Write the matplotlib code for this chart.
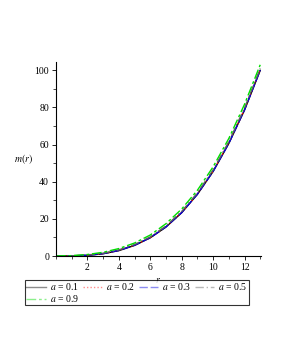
import matplotlib
matplotlib.use("Agg")
import matplotlib.pyplot as plt
from matplotlib.ticker import MultipleLocator

r = [0, 1, 2, 3, 4, 5, 6, 7, 8, 9, 10, 11, 12, 13]
m_a01 = [0, 0.05, 0.36, 1.2, 2.9, 5.7, 9.8, 15.6, 23.3, 33.2, 45.5, 60.6, 78.6, 100.0]
m_a02 = [0, 0.06, 0.40, 1.3, 3.0, 5.8, 9.9, 15.8, 23.5, 33.4, 45.8, 60.9, 78.9, 100.3]
m_a03 = [0, 0.06, 0.40, 1.3, 3.0, 5.8, 9.9, 15.7, 23.4, 33.3, 45.6, 60.7, 78.7, 100.1]
m_a05 = [0, 0.10, 0.55, 1.5, 3.3, 6.2, 10.3, 16.2, 24.0, 34.0, 46.4, 61.6, 79.7, 101.0]
m_a09 = [0, 0.20, 0.80, 2.0, 4.0, 7.0, 11.3, 17.4, 25.3, 35.4, 48.0, 63.3, 81.7, 103.0]
a_values = ["0.1", "0.2", "0.3", "0.5", "0.9"]

plt.rcParams['font.family'] = ['Liberation Serif', 'DejaVu Serif']
plt.rcParams['mathtext.fontset'] = 'stix'

fig = plt.figure(figsize=(2.81, 3.63), dpi=100)
ax = fig.add_axes([56/281, 107/363, 205/281, 194/363])

styles = [
    dict(color='black', linestyle='-'),
    dict(color='red', linestyle=(0, (1, 1.5))),
    dict(color='#0000e0', linestyle=(0, (6, 2))),
    dict(color='#606060', linestyle=(0, (6, 2, 1, 2))),
    dict(color='#00dd00', linestyle=(0, (7, 2, 2, 2))),
]
series = [m_a01, m_a02, m_a03, m_a05, m_a09]
handles = []
for av, ys, st in zip(a_values, series, styles):
    h, = ax.plot(r, ys, lw=1.0, label=r'$a$ = ' + av, **st)
    handles.append(h)

ax.set_xlim(0, 13.05)
ax.set_ylim(0, 104.5)
for s in ['top', 'right']:
    ax.spines[s].set_visible(False)
ax.spines['left'].set_linewidth(0.8)
ax.spines['bottom'].set_linewidth(0.8)
ax.xaxis.set_minor_locator(MultipleLocator(1))
ax.yaxis.set_major_locator(MultipleLocator(20))
ax.yaxis.set_minor_locator(MultipleLocator(10))
ax.set_xticks([2, 4, 6, 8, 10, 12])
ax.tick_params(axis='both', which='major', labelsize=7, length=3, width=0.6, pad=2)
ax.tick_params(axis='both', which='minor', length=2, width=0.5)
ax.set_xlabel(r'$r$', fontsize=7, labelpad=3)
ax.set_ylabel(r'$m(r)$', fontsize=7, rotation=0, labelpad=8, va='center')

order = [0, 4, 1, 2, 3]
leg = fig.legend([handles[i] for i in order],
                 [handles[i].get_label() for i in order],
                 loc='upper left', bbox_to_anchor=(25/281, 1 - 280/363), ncol=4,
                 fontsize=7, frameon=True, fancybox=False, edgecolor='black',
                 handlelength=2.0, handletextpad=0.4, columnspacing=0.4,
                 borderpad=0.15, labelspacing=0.05, borderaxespad=0)
leg.get_frame().set_linewidth(0.8)
for h in leg.get_lines():
    h.set_alpha(0.45)

fig.savefig('out.png', dpi=100)
